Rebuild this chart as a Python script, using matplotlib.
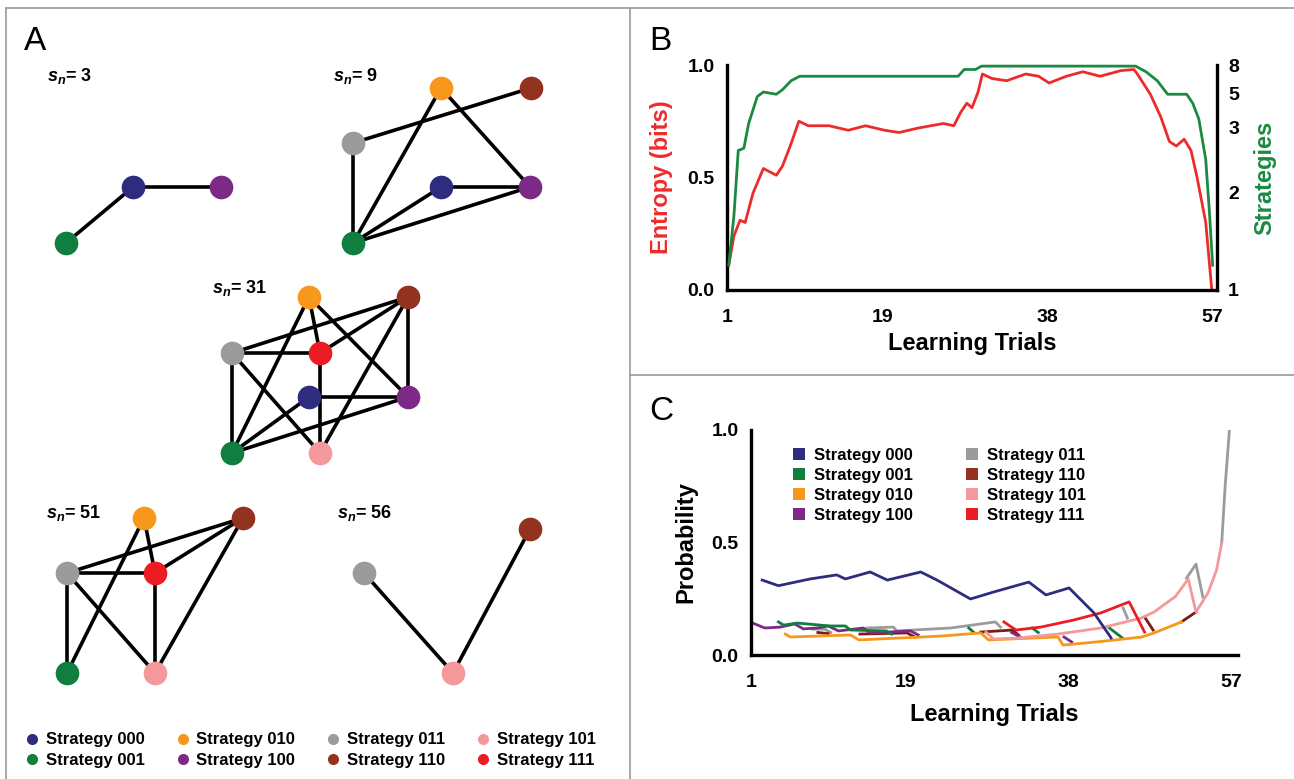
import numpy as np
import matplotlib
matplotlib.use("Agg")
import matplotlib.pyplot as plt
from matplotlib.lines import Line2D

plt.rcParams['font.family'] = ['Liberation Sans', 'DejaVu Sans']
plt.rcParams['font.weight'] = 'bold'
plt.rcParams['axes.labelweight'] = 'bold'
plt.rcParams['mathtext.fontset'] = 'custom'
plt.rcParams['mathtext.it'] = 'Liberation Sans:italic:bold'
plt.rcParams['mathtext.rm'] = 'Liberation Sans:bold'

nan = np.nan

# ---- strategies / colours ----
strategies = ['000', '001', '010', '100', '011', '110', '101', '111']
colors = {'000': '#2E2C7E', '001': '#0F7E3E', '010': '#F7981D', '100': '#7C2A85',
          '011': '#9B9B9B', '110': '#93321F', '101': '#F4989B', '111': '#EC1C24'}

# ---- panel A: networks (s_n -> edges) ----
edges_3 = [('001', '000'), ('000', '100')]
edges_9 = [('011', '110'), ('010', '001'), ('010', '100'), ('011', '001'),
           ('000', '100'), ('001', '000'), ('001', '100')]
edges_31 = [('011', '110'), ('011', '111'), ('010', '001'), ('010', '100'),
            ('010', '111'), ('111', '110'), ('110', '100'), ('110', '101'),
            ('011', '001'), ('011', '101'), ('000', '100'), ('001', '000'),
            ('001', '100'), ('111', '101')]
edges_51 = [('011', '110'), ('011', '111'), ('111', '110'), ('010', '001'),
            ('010', '111'), ('111', '101'), ('110', '101'), ('011', '001'),
            ('011', '101')]
edges_56 = [('011', '101'), ('101', '110')]

# ---- panel B ----
trials_entropy = [1.2, 1.8, 2.5, 3.1, 4.0, 5.2, 6.7, 7.4, 8.4, 9.3, 10.4, 12.8, 15.0,
                  17.0, 19.2, 20.9, 23.1, 26.0, 27.2, 28.0, 28.7, 29.3, 30.0, 30.5,
                  31.6, 33.3, 35.5, 37.0, 38.2, 40.2, 42.1, 44.1, 46.5, 48.0, 48.4,
                  49.9, 51.1, 52.1, 52.9, 53.8, 54.6, 55.3, 56.3, 57.0]
entropy = [0.11, 0.24, 0.31, 0.30, 0.43, 0.54, 0.51, 0.55, 0.65, 0.75, 0.73, 0.73, 0.71,
           0.73, 0.71, 0.70, 0.72, 0.74, 0.73, 0.79, 0.83, 0.81, 0.88, 0.96,
           0.94, 0.93, 0.96, 0.95, 0.92, 0.95, 0.97, 0.95, 0.975, 0.98, 0.96,
           0.87, 0.77, 0.66, 0.64, 0.67, 0.62, 0.50, 0.30, 0.0]
trials_strat = [1.2, 1.8, 2.3, 2.95, 3.5, 4.5, 5.2, 6.7, 7.4, 8.4, 9.4, 27.7, 28.4,
                29.7, 30.4, 48.2, 49.4, 50.7, 51.9, 52.9, 54.1, 54.8, 55.5, 56.3,
                56.7, 57.1]
strat_level = [0.11, 0.33, 0.62, 0.63, 0.74, 0.86, 0.88, 0.87, 0.89, 0.93, 0.95, 0.95, 0.98,
               0.98, 0.995, 0.995, 0.97, 0.93, 0.87, 0.87, 0.87, 0.83, 0.76, 0.58,
               0.36, 0.11]
strat_tick_pos = [0.0, 0.435, 0.72, 0.875, 1.0]
strat_tick_lab = ['1', '2', '3', '5', '8']

# ---- panel C ----
s000_t = [2.3, 4.2, 7.9, 11.0, 12.0, 14.9, 16.9, 20.8, 22.7, 26.6, 29.3, 33.4, 35.4, 38.1, 41.0, 43.0]
s000_p = [0.333, 0.308, 0.338, 0.356, 0.338, 0.369, 0.333, 0.369, 0.333, 0.249, 0.28, 0.324,
          0.267, 0.298, 0.187, 0.076]
s001_t = [4.2, 4.8, 6.4, 10.2, 12.0, 12.6, 16.8, 17.4, nan, 26.4, 27.0, nan, 33.8, 34.5, nan, 42.6, 44.3]
s001_p = [0.147, 0.133, 0.142, 0.129, 0.129, 0.111, 0.107, 0.093, nan, 0.12, 0.10, nan, 0.12,
          0.10, nan, 0.126, 0.076]
s010_t = [5.0, 5.6, 12.6, 13.6, 23.1, 27.8, 28.7, 36.8, 37.4, 41.8, 46.6, 48.0, 51.2]
s010_p = [0.093, 0.08, 0.089, 0.067, 0.084, 0.098, 0.067, 0.08, 0.044, 0.06, 0.08, 0.098, 0.147]
s100_t = [1.2, 2.6, 4.4, 6.1, 7.1, 8.7, 10.0, 11.2, 14.1, 14.9, 19.6, 20.5, nan, 31.4, 32.4,
          nan, 37.5, 38.4]
s100_p = [0.142, 0.12, 0.124, 0.138, 0.116, 0.12, 0.129, 0.107, 0.12, 0.098, 0.107, 0.089, nan,
          0.1, 0.08, nan, 0.08, 0.058]
s011_t = [8.2, 9.6, 10.3, nan, 14.5, 17.6, 18.0, 24.3, 29.5, 30.1, nan, 44.4, 44.9, nan,
          51.8, 52.9, 53.7, nan, 55.9, 56.3, 56.8]
s011_p = [0.115, 0.115, 0.10, nan, 0.12, 0.124, 0.107, 0.12, 0.147, 0.124, nan, 0.209, 0.164,
          nan, 0.342, 0.404, 0.258, nan, 0.498, 0.75, 1.0]
s110_t = [8.8, 10.0, nan, 13.7, 19.2, 20.1, nan, 27.8, 31.5, 32.2, nan, 46.9, 47.9, nan, 51.2, 52.9]
s110_p = [0.10, 0.095, nan, 0.093, 0.098, 0.08, nan, 0.102, 0.111, 0.089, nan, 0.169, 0.111,
          nan, 0.147, 0.191]
s101_t = [28.4, 29.3, 32.0, 36.8, 41.8, 46.5, 48.0, 50.5, 52.0, 52.9, 54.3, 55.3, 55.9]
s101_p = [0.102, 0.071, 0.075, 0.093, 0.12, 0.164, 0.191, 0.26, 0.338, 0.191, 0.276, 0.378, 0.498]
s111_t = [30.5, 31.9, 34.8, 38.7, 41.8, 45.1, 46.9]
s111_p = [0.147, 0.111, 0.124, 0.156, 0.187, 0.236, 0.102]

W, H = 1294, 779
fig = plt.figure(figsize=(W / 100, H / 100), dpi=100)


def fx(px):
    return px / W


def fy(py):
    return 1 - py / H


# panel frames
frame = dict(color='#9a9a9a', lw=1.2, transform=fig.transFigure)
fig.add_artist(Line2D([fx(6), fx(6)], [fy(8), fy(779)], **frame))
fig.add_artist(Line2D([fx(6), fx(1294)], [fy(8), fy(8)], **frame))
fig.add_artist(Line2D([fx(630), fx(630)], [fy(8), fy(779)], **frame))
fig.add_artist(Line2D([fx(630), fx(1294)], [fy(375), fy(375)], **frame))

for letter, x, y in [('A', 24, 42), ('B', 649, 42), ('C', 649, 412)]:
    fig.text(fx(x), fy(y), letter, fontsize=24, fontweight='normal', va='center', ha='left')

# ---------------- panel A ----------------
axA = fig.add_axes([0, 0, fx(630), 1])
axA.set_xlim(0, 630)
axA.set_ylim(779, 0)
axA.axis('off')

layout = {
    3: {'000': (133, 187), '100': (221, 187), '001': (66, 243)},
    9: {'010': (441, 88), '110': (531, 88), '011': (353, 143), '000': (441, 187),
        '100': (530, 187), '001': (353, 243)},
    31: {'010': (309, 297), '110': (408, 297), '011': (232, 353), '111': (320, 353),
         '000': (309, 397), '100': (408, 397), '001': (232, 453), '101': (320, 453)},
    51: {'010': (144, 518), '110': (243, 518), '011': (67, 573), '111': (155, 573),
         '001': (67, 673), '101': (155, 673)},
    56: {'011': (364, 573), '110': (530, 529), '101': (453, 673)},
}
label_pos = {3: (47, 76), 9: (333, 76), 31: (212, 288), 51: (46, 513), 56: (337, 513)}
graphs = {3: edges_3, 9: edges_9, 31: edges_31, 51: edges_51, 56: edges_56}

for sn, edges in graphs.items():
    pos = layout[sn]
    for a, b in edges:
        axA.plot([pos[a][0], pos[b][0]], [pos[a][1], pos[b][1]], color='black', lw=2.6,
                 zorder=1, solid_capstyle='round')
    for s, (x, y) in pos.items():
        axA.scatter(x, y, s=290, color=colors[s], zorder=2, linewidths=0)
    lx, ly = label_pos[sn]
    axA.text(lx, ly, r'$s_n$' + '= %d' % sn, fontsize=13, fontweight='bold',
             va='center', ha='left')

handles_a = [Line2D([], [], ls='', marker='o', markersize=8, color=colors[s],
                    markeredgewidth=0) for s in strategies]
axA.legend(handles_a, ['Strategy ' + s for s in strategies], ncol=4,
           loc='upper left', bbox_to_anchor=(fx(19), fy(724)), bbox_transform=fig.transFigure,
           frameon=False, borderpad=0, handlelength=0.6, handletextpad=0.5,
           columnspacing=2.0, labelspacing=0.35, prop={'weight': 'bold', 'size': 12})

# ---------------- panel B ----------------
axB = fig.add_axes([fx(727), fy(290), fx(490), 225 / H])
axB.plot(trials_entropy, entropy, color='#EE2B2B', lw=2, clip_on=False)
axB.set_xlim(1, 57.6)
axB.set_ylim(0, 1)
axB.set_xticks([1, 19, 38, 57])
axB.set_yticks([0, 0.5, 1.0])
axB.set_yticklabels(['0.0', '0.5', '1.0'])
axB.tick_params(length=0, labelsize=14, pad=9)
axB.tick_params(axis='x', pad=14)
for side in ['top', 'right']:
    axB.spines[side].set_visible(False)
for side in ['left', 'bottom']:
    axB.spines[side].set_linewidth(2.4)
axB.set_ylabel('Entropy (bits)', color='#EE2B2B', fontsize=17, labelpad=10)
axB.set_xlabel('Learning Trials', fontsize=17, labelpad=4)

axB2 = axB.twinx()
axB2.plot(trials_strat, strat_level, color='#1B8A40', lw=2, clip_on=False)
axB2.set_ylim(0, 1)
axB2.set_yticks(strat_tick_pos)
axB2.set_yticklabels(strat_tick_lab)
axB2.tick_params(length=0, labelsize=14, pad=8)
for side in ['top', 'left', 'bottom']:
    axB2.spines[side].set_visible(False)
axB2.spines['right'].set_linewidth(2.4)
axB2.set_ylabel('Strategies', color='#1B8A40', fontsize=17, rotation=90, labelpad=10)

# ---------------- panel C ----------------
axC = fig.add_axes([fx(751), fy(655), fx(487), 225 / H])
series_c = [('011', s011_t, s011_p), ('110', s110_t, s110_p), ('100', s100_t, s100_p),
            ('001', s001_t, s001_p), ('010', s010_t, s010_p), ('101', s101_t, s101_p),
            ('111', s111_t, s111_p), ('000', s000_t, s000_p)]
for s, t, p in series_c:
    c = '#7A1C14' if s == '110' else colors[s]
    axC.plot(t, p, color=c, lw=2)
axC.set_xlim(1, 57.8)
axC.set_ylim(0, 1)
axC.set_xticks([1, 19, 38, 57])
axC.set_yticks([0, 0.5, 1.0])
axC.set_yticklabels(['0.0', '0.5', '1.0'])
axC.tick_params(length=0, labelsize=14, pad=9)
axC.tick_params(axis='x', pad=14)
for side in ['top', 'right']:
    axC.spines[side].set_visible(False)
for side in ['left', 'bottom']:
    axC.spines[side].set_linewidth(2.4)
axC.set_ylabel('Probability', fontsize=17, labelpad=10)
axC.set_xlabel('Learning Trials', fontsize=17, labelpad=8)

handles_c = [Line2D([], [], ls='', marker='s', markersize=8, color=colors[s],
                    markeredgewidth=0) for s in strategies]
axC.legend(handles_c, ['Strategy ' + s for s in strategies], ncol=2,
           loc='upper left', bbox_to_anchor=(fx(786), fy(440)), bbox_transform=fig.transFigure,
           frameon=False, borderpad=0, handlelength=0.6, handletextpad=0.6,
           columnspacing=3.2, labelspacing=0.3, prop={'weight': 'bold', 'size': 12})

fig.savefig('out.png', dpi=100)
